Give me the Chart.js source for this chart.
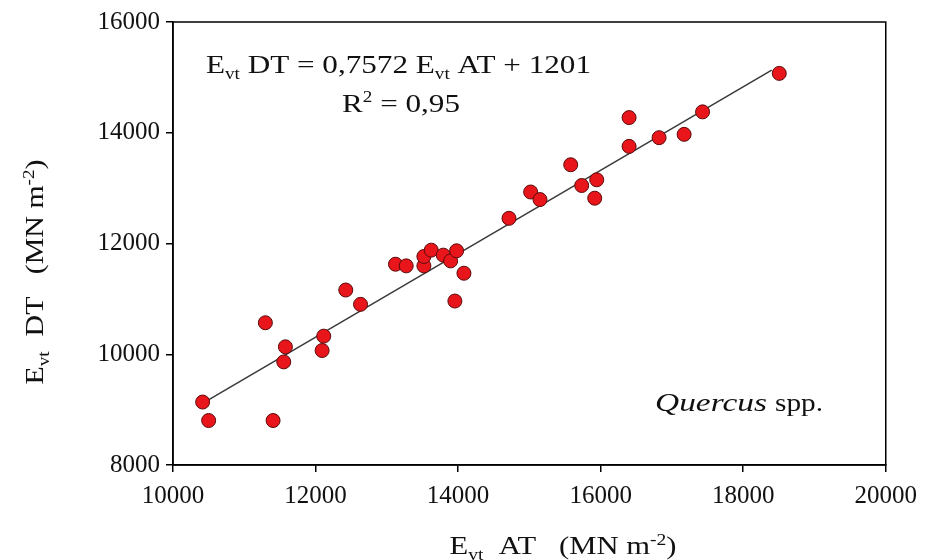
<!DOCTYPE html>
<html>
<head>
<meta charset="utf-8">
<script src="https://cdn.jsdelivr.net/npm/chart.js@4.4.1/dist/chart.umd.min.js"></script>
<style>
  html, body { margin: 0; padding: 0; background: #fff; }
  #wrap { width: 926px; height: 560px; }
</style>
</head>
<body>
<div id="wrap"><canvas id="c" width="926" height="560"></canvas></div>
<script>
// valores (Evt AT, Evt DT)
const evtAT = [10416, 10500, 11296, 11404, 11577, 11554, 12115, 12092, 12424, 12631,
  13122, 13272, 13520, 13520, 13623, 13792, 13895, 13979, 14082, 13955,
  14714, 15018, 15149, 15580, 15734, 15945, 15917, 16399, 16399, 16820,
  17171, 17430, 18506];
const evtDT = [9137, 8803, 10569, 8803, 10134, 9862, 10327, 10067, 11160, 10901,
  11626, 11596, 11596, 11766, 11880, 11790, 11686, 11868, 11463, 10961,
  12455, 12930, 12793, 13422, 13047, 13150, 12818, 14274, 13754, 13911,
  13971, 14377, 15072];
// reta de regressão (extremos)
const fitX = [10450, 18400];
const fitY = [9140, 15130];
const xTicks = [10000, 12000, 14000, 16000, 18000, 20000];
const yTicks = [8000, 10000, 12000, 14000, 16000];

const SERIF = '"Liberation Serif", "DejaVu Serif", serif';

// texto com subscrito/sobrescrito: partes [texto, 'n'|'sub'|'sup'], esticado até largura w
function drawRich(ctx, parts, x, y, size, align, targetW, style) {
  const pre = style ? style + ' ' : '';
  const fontOf = p => pre + (p[1] === 'n' ? size : Math.round(size * 0.62)) + 'px ' + SERIF;
  const w = parts.reduce((a, p) => { ctx.font = fontOf(p); return a + ctx.measureText(p[0]).width; }, 0);
  const sx = targetW ? targetW / w : 1;
  ctx.save();
  ctx.translate(align === 'center' ? x - w * sx / 2 : x, y);
  ctx.scale(sx, 1);
  ctx.textAlign = 'left';
  ctx.textBaseline = 'alphabetic';
  let cx = 0;
  parts.forEach(p => {
    ctx.font = fontOf(p);
    const dy = p[1] === 'sub' ? size * 0.22 : (p[1] === 'sup' ? -size * 0.38 : 0);
    ctx.fillText(p[0], cx, dy);
    cx += ctx.measureText(p[0]).width;
  });
  ctx.restore();
}

const extras = {
  id: 'extras',
  afterDraw(chart) {
    const { ctx, chartArea: a } = chart;
    ctx.save();
    ctx.strokeStyle = '#000';
    ctx.lineWidth = 1.5;
    ctx.strokeRect(a.left, a.top, a.right - a.left, a.bottom - a.top);
    ctx.fillStyle = '#111';
    // equação
    drawRich(ctx, [['E', 'n'], ['vt', 'sub'], [' DT = 0,7572 E', 'n'], ['vt', 'sub'], [' AT + 1201', 'n']], 206, 73, 26, 'left', 385);
    drawRich(ctx, [['R', 'n'], ['2', 'sup'], [' = 0,95', 'n']], 342, 112, 26, 'left', 118);
    // espécie
    drawRich(ctx, [['Quercus', 'n']], 655, 411, 26, 'left', 112, 'italic');
    drawRich(ctx, [['spp.', 'n']], 775, 411, 26, 'left', 48);
    // título do eixo x
    drawRich(ctx, [['E', 'n'], ['vt', 'sub'], ['  AT   (MN m', 'n'], ['-2', 'sup'], [')', 'n']], 563, 554, 25, 'center', 227);
    // título do eixo y (rodado)
    ctx.translate(43, 272);
    ctx.rotate(-Math.PI / 2);
    drawRich(ctx, [['E', 'n'], ['vt', 'sub'], ['  DT   (MN m', 'n'], ['-2', 'sup'], [')', 'n']], 0, 0, 25, 'center', 225);
    ctx.restore();
  }
};

new Chart(document.getElementById('c'), {
  type: 'scatter',
  data: {
    datasets: [
      {
        data: evtAT.map((x, i) => ({ x, y: evtDT[i] })),
        backgroundColor: '#e8161b',
        borderColor: '#5a0a0a',
        borderWidth: 1,
        pointRadius: 7,
        order: 1
      },
      {
        type: 'line',
        data: fitX.map((x, i) => ({ x, y: fitY[i] })),
        borderColor: '#3a3a3a',
        borderWidth: 1.5,
        pointRadius: 0,
        fill: false,
        order: 2
      }
    ]
  },
  options: {
    responsive: false,
    animation: false,
    layout: { padding: { left: 0, top: 22, right: 39, bottom: 0 } },
    plugins: { legend: { display: false }, tooltip: { enabled: false } },
    scales: {
      x: {
        type: 'linear', min: 10000, max: 20000,
        afterFit: s => { s.height = 95; },
        afterBuildTicks: s => { s.ticks = xTicks.map(v => ({ value: v })); },
        grid: { drawOnChartArea: false, color: '#000', tickLength: 7, lineWidth: 1.5 },
        border: { color: '#000', width: 1.5 },
        ticks: { color: '#111', font: { family: SERIF, size: 25 }, padding: 9, maxRotation: 0, callback: v => String(v) }
      },
      y: {
        type: 'linear', min: 8000, max: 16000,
        afterFit: s => { s.width = 173; },
        afterBuildTicks: s => { s.ticks = yTicks.map(v => ({ value: v })); },
        grid: { drawOnChartArea: false, color: '#000', tickLength: 7, lineWidth: 1.5 },
        border: { color: '#000', width: 1.5 },
        ticks: { color: '#111', font: { family: SERIF, size: 25 }, padding: 6, callback: v => String(v) }
      }
    }
  },
  plugins: [extras]
});
</script>
</body>
</html>
